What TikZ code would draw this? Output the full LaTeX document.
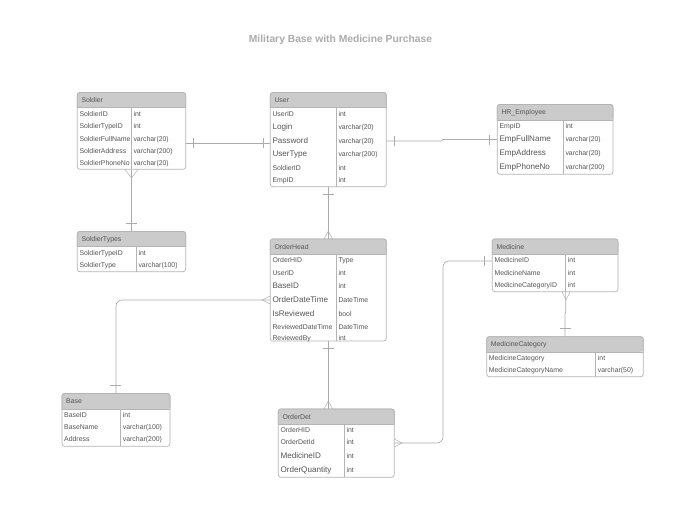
\documentclass[tikz,border=0pt]{standalone}
\usepackage{fontspec}
\setmainfont{Liberation Sans}
\definecolor{hdrfill}{HTML}{CBCBCB}
\definecolor{boxline}{HTML}{B4B4B4}
\definecolor{connline}{HTML}{ABABAB}
\definecolor{titlegrey}{HTML}{ABABAB}
\definecolor{txt}{HTML}{555555}
\newcommand{\ertS}{\fontsize{6.9}{8}\selectfont}
\newcommand{\ertL}{\fontsize{8.1}{9}\selectfont}
\tikzset{
  tblbox/.style={draw=boxline,line width=0.7pt,rounded corners=2.5pt,inner sep=0pt,fill=white},
  hdrshape/.style={fill=hdrfill},
  tbltitle/.style={anchor=base west,inner sep=0pt,text=txt,font=\ertS},
  cell/.style={anchor=base west,inner sep=0pt,text=txt},
  divline/.style={draw=boxline,line width=0.6pt},
  conn/.style={draw=connline,line width=0.65pt},
  mark tick/.style={draw=connline,line width=0.4pt},
  crow/.style={draw=connline,line width=0.45pt},
}
% name, x1, y1, x2, y2, header bottom, divider x, title, rows
\newcommand{\ertable}[9]{%
  \node[tblbox,minimum width=#4pt-#2pt,minimum height=#5pt-#3pt] (#1) at ({(#2+#4)/2},{(#3+#5)/2}) {};
  \fill[hdrshape,rounded corners=2.5pt] (#2,#6) -- (#2,#3) -- (#4,#3) -- (#4,#6) [sharp corners] -- cycle;
  \draw[divline] (#2,#6) -- (#4,#6);
  \draw[divline] (#7,#6) -- (#7,#5);
  \draw[draw=boxline,line width=0.7pt,rounded corners=2.5pt] (#2,#6) -- (#2,#3) -- (#4,#3) -- (#4,#6);
  \node[tbltitle] (#1-title) at ({#2+4},{#3+10}) {#8};
  \foreach \rowY/\rowF/\rowL/\rowR [count=\rowI] in {#9} {
    \node[cell,font=\rowF] (#1-l\rowI) at ({#2+2},{\rowY+3}) {\rowL};
    \node[cell,font=\ertS] (#1-r\rowI) at ({#7+2},{\rowY+3}) {\rowR};
  }
}
\begin{document}
\begin{tikzpicture}[x=1pt,y=-1pt]
\useasboundingbox (0,0) rectangle (680,525);
\fill[white] (0,0) rectangle (680,525);

\node[font=\fontsize{10.3}{12}\selectfont\bfseries,text=titlegrey] (pagetitle) at (340.5,39.5) {Military Base with Medicine Purchase};

\ertable{soldier}{77.3}{92.5}{185.7}{169.3}{107.7}{131.3}{Soldier}{113/\ertS/SoldierID/int,125.5/\ertS/SoldierTypeID/int,138/\ertS/SoldierFullName/varchar(20),150/\ertS/SoldierAddress/varchar(200),162.5/\ertS/SoldierPhoneNo/varchar(20)}
\ertable{soldiertypes}{77.3}{231.5}{185.7}{271.7}{246.7}{136.3}{SoldierTypes}{252.3/\ertS/SoldierTypeID/int,264.7/\ertS/SoldierType/varchar(100)}
\ertable{user}{270.3}{92.5}{386.3}{186.7}{107.7}{336.3}{User}{113/\ertS/UserID/int,126/\ertL/Login/varchar(20),140/\ertL/Password/varchar(20),153.7/\ertL/UserType/varchar(200),167/\ertS/SoldierID/int,179.7/\ertS/EmpID/int}
\ertable{orderhead}{270.3}{239}{386.3}{341}{254.3}{336.3}{OrderHead}{259.7/\ertS/OrderHID/Type,272.3/\ertS/UserID/int,285/\ertL/BaseID/int,299/\ertL/OrderDateTime/DateTime,313/\ertL/IsReviewed/bool,326.3/\ertS/ReviewedDateTime/DateTime,337.3/\ertS/ReviewedBy/int}
\ertable{hremployee}{497.3}{104.5}{613}{174.3}{120.3}{563.3}{HR\_Employee}{125.3/\ertS/EmpID/int,138.7/\ertL/EmpFullName/varchar(20),152.3/\ertL/EmpAddress/varchar(20),166.7/\ertL/EmpPhoneNo/varchar(200)}
\ertable{medicine}{492.3}{239}{618}{291.7}{254.7}{565.7}{Medicine}{259.7/\ertS/MedicineID/int,272.3/\ertS/MedicineName/int,284.3/\ertS/MedicineCategoryID/int}
\ertable{medcat}{486.7}{336.7}{643.3}{376.7}{352}{595.7}{MedicineCategory}{357.3/\ertS/MedicineCategory/int,369.7/\ertS/MedicineCategoryName/varchar(50)}
\ertable{orderdet}{278.3}{409}{394.3}{477.3}{424.7}{344.3}{OrderDet}{429.3/\ertS/OrderHID/int,441.7/\ertS/OrderDetId/int,455/\ertL/MedicineID/int,469/\ertL/OrderQuantity/int}
\ertable{base}{62}{393.5}{170}{446.3}{409.3}{120.7}{Base}{414/\ertS/BaseID/int,426.7/\ertS/BaseName/varchar(100),438.7/\ertS/Address/varchar(200)}

% Soldier -- User
\draw[conn] (soldier.east |- 0,143) -- (user.west |- 0,143);
\draw[mark tick] (193,138) -- (193,148);
\draw[mark tick] (263.5,138) -- (263.5,148);
% Soldier -- SoldierTypes
\draw[conn] (soldier.south) -- (soldiertypes.north);
\draw[crow] (125,169.3) -- (131.5,178) -- (138,169.3);
\draw[mark tick] (126,223.3) -- (137,223.3);
% User -- OrderHead
\draw[conn] (user.south) -- (orderhead.north);
\draw[mark tick] (323,193.7) -- (333.7,193.7);
\draw[crow] (324,239) -- (328.3,231) -- (332.6,239);
% User -- HR_Employee
\draw[conn] (user.east |- 0,141) -- (441,141) -- (443,139.5) -- (hremployee.west |- 0,139.5);
\draw[mark tick] (394.3,136) -- (394.3,146);
\draw[mark tick] (489.5,134.5) -- (489.5,144.5);
% OrderHead -- Base
\draw[conn,rounded corners=6pt] (orderhead.west |- 0,300) -| (base.north);
\draw[crow] (270.3,296) -- (262,300) -- (270.3,304);
\draw[mark tick] (110.3,385.3) -- (121,385.3);
% OrderHead -- OrderDet
\draw[conn] (orderhead.south) -- (orderhead.south |- orderdet.north);
\draw[mark tick] (323,348) -- (333.7,348);
\draw[crow] (324,409) -- (328.3,401) -- (332.6,409);
% OrderDet -- Medicine
\draw[conn,rounded corners=6pt] (orderdet.east |- 0,443) -- (443,443) -- (443,261) -- (medicine.west |- 0,261);
\draw[crow] (394.3,439) -- (402,443) -- (394.3,447);
\draw[mark tick] (484.3,256) -- (484.3,266);
% Medicine -- MedicineCategory
\draw[conn] ([xshift=10.5pt]medicine.south) -- (565.7,312) -- (565,314) -- (565,336.7);
\draw[crow] (562,291.7) -- (566,300) -- (570,291.7);
\draw[mark tick] (560,328) -- (570.5,328);
\end{tikzpicture}
\end{document}
